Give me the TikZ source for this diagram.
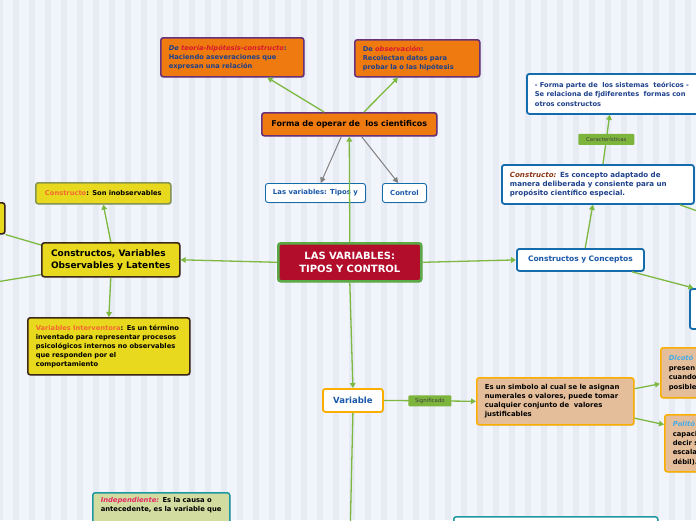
\documentclass[tikz,border=0pt]{standalone}
\usepackage{fontspec}
\setmainfont{DejaVu Sans}
\usetikzlibrary{arrows.meta, shadows}

\definecolor{bgpaper}{RGB}{241,244,251}
\definecolor{bggrid}{RGB}{231,235,244}
\definecolor{orangebox}{RGB}{238,122,16}
\definecolor{purplebd}{RGB}{105,50,120}
\definecolor{navytext}{RGB}{30,65,140}
\definecolor{redital}{RGB}{215,25,45}
\definecolor{crimson}{RGB}{178,14,44}
\definecolor{greenbd}{RGB}{90,168,70}
\definecolor{yellowbox}{RGB}{232,216,30}
\definecolor{darkbd}{RGB}{60,40,25}
\definecolor{olivebd}{RGB}{135,150,80}
\definecolor{orangetext}{RGB}{245,105,50}
\definecolor{bluebd}{RGB}{20,108,172}
\definecolor{bluetext}{RGB}{25,88,168}
\definecolor{brownital}{RGB}{140,55,20}
\definecolor{tanbox}{RGB}{228,190,155}
\definecolor{goldbd}{RGB}{250,175,0}
\definecolor{linkgreen}{RGB}{125,185,65}
\definecolor{tagfill}{RGB}{125,180,60}
\definecolor{tealbd}{RGB}{30,152,160}
\definecolor{indepfill}{RGB}{210,220,160}
\definecolor{pinkital}{RGB}{230,40,100}
\definecolor{skyital}{RGB}{70,170,230}

\begin{document}
\begin{tikzpicture}[
    x=1pt, y=-1pt,
    box/.style={draw, rectangle, rounded corners=2.5pt, anchor=north west, inner xsep=8pt, inner ysep=0pt,
      align=left, font=\bfseries\fontsize{6.7}{9}\selectfont,
      drop shadow={opacity=0.25, shadow xshift=1pt, shadow yshift=-1pt}},
    orangenote/.style={box, fill=orangebox, draw=purplebd, line width=1.6pt, text=navytext},
    yellownote/.style={box, fill=yellowbox, draw=darkbd, line width=1.6pt, text=black},
    bluenote/.style={box, fill=white, draw=bluebd, line width=1.8pt, text=navytext},
    tannote/.style={box, fill=tanbox, draw=goldbd, line width=1.6pt, text=black},
    tealnote/.style={box, fill=indepfill, draw=tealbd, line width=1.5pt, text=black},
    tab/.style={box, fill=white, draw=bluebd, line width=0.9pt, align=center, inner xsep=0pt, text=bluetext,
      font=\bfseries\fontsize{6.9}{8}\selectfont},
    tag/.style={rectangle, rounded corners=1pt, fill=tagfill, text=black!75, inner sep=0pt,
      minimum width=56pt, minimum height=11pt, font=\fontsize{5.4}{6}\selectfont},
    link/.style={draw=linkgreen, line width=1.3pt, -{Triangle[width=5.5pt,length=5pt]}},
    plainlink/.style={draw=linkgreen, line width=1.3pt},
    greylink/.style={draw=gray, line width=1pt, -{Triangle[width=5.5pt,length=5.5pt]}}
  ]
    % Paper
    \useasboundingbox (0,0) rectangle (696,520);
    \fill[bgpaper] (0,0) rectangle (696,520);
    \draw[bggrid, line width=6pt] (0,0) grid[step=16] (696,520);

    % Top
    \node[orangenote, minimum width=143pt, minimum height=39pt, text width=127pt] (teoria) at (160,37)
      {{\itshape De \textcolor{redital}{teoría-hipótesis-constructo}}:\\Haciendo aseveraciones que\\expresan una relación};
    \node[orangenote, minimum width=125pt, minimum height=37pt, text width=109pt] (observ) at (354,39)
      {De \textcolor{redital}{\itshape observación}:\\Recolectan datos para\\probar la o las hipótesis};
    \node[orangenote, minimum width=175pt, minimum height=23pt, text width=159pt, align=center, text=black,
      font=\bfseries\fontsize{8}{10}\selectfont] (forma) at (261,112) {Forma de operar de\ \ los cientificos};
    \node[tab, minimum width=100pt, minimum height=19pt] (tipos) at (265,183) {Las variables: Tipos y};
    \node[tab, minimum width=44pt, minimum height=19pt] (control) at (382,183) {Control};

    % Centre
    \node[box, fill=crimson, draw=greenbd, line width=2.6pt, text=white, align=center,
      minimum width=143pt, minimum height=38pt, text width=127pt,
      font=\bfseries\fontsize{10}{12.5}\selectfont] (main) at (277,242) {LAS VARIABLES:\\TIPOS Y CONTROL};

    % Left branch
    \node[yellownote, minimum width=138pt, minimum height=34pt, inner xsep=0pt,
      font=\bfseries\fontsize{9}{12}\selectfont] (cvol) at (41,242) {Constructos, Variables\\Observables y Latentes};
    \node[yellownote, draw=olivebd, minimum width=135pt, minimum height=21pt, text width=119pt, align=center] (inobs) at (35,182)
      {\textcolor{orangetext}{Constructo}: Son inobservables};
    \node[yellownote, minimum width=162pt, minimum height=57pt, text width=146pt] (interv) at (27,317)
      {\textcolor{orangetext}{Variables Interventora}: Es un término\\inventado para representar procesos\\psicológicos internos no observables\\que responden por el\\comportamiento};
    \node[yellownote, minimum width=14pt, minimum height=31pt, inner xsep=0pt] (leftcut) at (-10,202) {};
    \coordinate (leftoff) at (-10,283);

    % Right branch
    \node[bluenote, minimum width=127pt, minimum height=22pt, text width=111pt, align=center, text=bluetext,
      font=\bfseries\fontsize{7.5}{9}\selectfont] (concep) at (516,248) {Constructos y Conceptos};
    \node[bluenote, minimum width=192pt, minimum height=39pt, text width=176pt,
      font=\bfseries\fontsize{7.1}{9}\selectfont] (constr) at (501,164)
      {\textcolor{brownital}{\itshape Constructo:} Es concepto adaptado de\\manera deliberada y consiente para un\\propósito científico especial.};
    \node[bluenote, minimum width=176pt, minimum height=40pt, text width=160pt,
      font=\bfseries\fontsize{6.7}{9.5}\selectfont] (sistemas) at (526,73)
      {- Forma parte de\ \ los sistemas\ \ teóricos -\\Se relaciona de fjdiferentes\ \ formas con\\otros constructos};
    \node[bluenote, minimum width=20pt, minimum height=40pt, inner xsep=0pt] (rightcut) at (689,288) {};
    \coordinate (rightoff) at (720,219);

    % Bottom branch
    \node[box, fill=white, draw=goldbd, line width=1.8pt, text=bluetext, align=center, inner xsep=0pt,
      minimum width=60pt, minimum height=23pt, font=\bfseries\fontsize{8.5}{10}\selectfont] (variable) at (322,388) {Variable};
    \node[tannote, minimum width=157pt, minimum height=47pt, text width=141pt,
      font=\bfseries\fontsize{6.9}{9}\selectfont] (simbolo) at (476,377)
      {Es un simbolo al cual se le asignan\\numerales o valores, puede tomar\\cualquier conjunto de\ \ valores\\justificables};
    \node[tannote, minimum width=50pt, minimum height=50pt, text width=34pt, font=\bfseries\fontsize{6.8}{9.5}\selectfont] (dicot) at (660,347)
      {\textcolor{skyital}{\itshape Dicotó}\\presen\\cuando\\posible};
    \node[tannote, minimum width=50pt, minimum height=57pt, text width=34pt, font=\bfseries\fontsize{6.8}{9.3}\selectfont] (polit) at (664,414)
      {\textcolor{skyital}{\itshape Politó}\\capaci\\decir s\\escala\\débil).};
    \node[tealnote, text width=121pt, inner ysep=5pt, font=\bfseries\fontsize{6.8}{9}\selectfont] (indep) at (92,492)
      {\textcolor{pinkital}{\itshape Independiente:} Es la causa o\\antecedente, es la variable que\\ \mbox{}\\ \mbox{}};
    \node[box, fill=white, draw=tealbd, line width=1.5pt, minimum width=204pt, minimum height=30pt] (bottombox) at (453,516) {};
    \coordinate (downoff) at (350,540);

    % Connections
    \draw[link] (main.north) -- (forma.south);
    \draw[link] (forma.154) -- (teoria.-30);
    \draw[link] (forma.40) -- (observ.-135);
    \draw[greylink] (forma.-123) -- (tipos.62);
    \draw[greylink] (forma.-45) -- (control.122);

    \draw[link] (main.west) -- (cvol.east);
    \draw[link] (cvol.north) -- (inobs.south);
    \draw[link] (cvol.south) -- (interv.north);
    \draw[plainlink] (cvol.168) -- (leftcut.south east);
    \draw[plainlink] (cvol.-168) -- (leftoff);

    \draw[link] (main.east) -- (concep.west);
    \draw[link] (concep.68) -- (constr.-104);
    \draw[link] (constr.76) -- node[tag] {Características} (sistemas.-104);
    \draw[plainlink] (constr.-14) -- (rightoff);
    \draw[link] (concep.-13) -- (rightcut.107);

    \draw[link] (main.south) -- (variable.north);
    \draw[link] (variable.east) -- node[tag, minimum width=43pt] {Significado} (simbolo.west);
    \draw[link] (simbolo.9) -- (dicot.-157);
    \draw[link] (simbolo.-12) -- (polit.144);
    \draw[plainlink] (variable.south) -- (downoff);
\end{tikzpicture}
\end{document}
